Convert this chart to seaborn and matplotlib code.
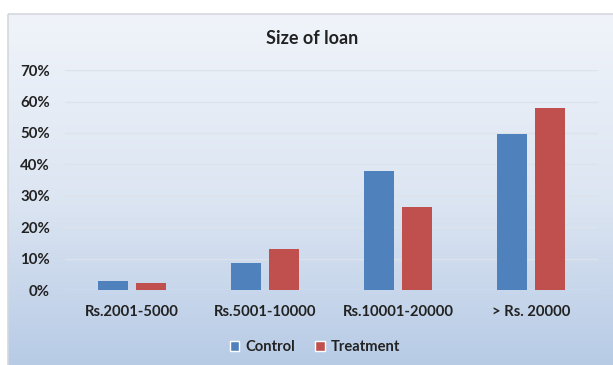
import numpy as np
import pandas as pd
import matplotlib
matplotlib.use("Agg")
import matplotlib.pyplot as plt
from matplotlib.patches import Patch, Rectangle
from matplotlib.colors import LinearSegmentedColormap
import seaborn as sns

# Loan size bands and share of borrowers (%) in each group
categories = ["Rs.2001-5000", "Rs.5001-10000", "Rs.10001-20000", "> Rs. 20000"]
control = [2.8, 8.7, 37.9, 49.8]
treatment = [2.2, 13.0, 26.3, 58.1]
groups = ["Control", "Treatment"]
y_ticks = [0, 10, 20, 30, 40, 50, 60, 70]

df = pd.DataFrame({
    "size": categories * 2,
    "share": control + treatment,
    "group": [groups[0]] * len(categories) + [groups[1]] * len(categories),
})

sns.set_theme(style="white")
plt.rcParams["font.family"] = ["Lato", "DejaVu Sans"]
plt.rcParams["font.weight"] = "bold"

TXT = "#222222"
W, H = 613, 365
fig = plt.figure(figsize=(W / 100, H / 100), dpi=100)
fig.patch.set_facecolor("white")

# Gradient panel behind the chart
bg = fig.add_axes([0, 0, 1, 1], zorder=0)
bg.axis("off")
cmap = LinearSegmentedColormap.from_list("panel", ["#f0f4fa", "#dce5f2", "#b3c8e4"])
grad = np.linspace(0, 1, 256).reshape(-1, 1)
bg.imshow(grad, cmap=cmap, aspect="auto", extent=(8, W + 2, H + 20, 14), zorder=0)
bg.add_patch(Rectangle((8, 14), W, H + 20, fill=False, edgecolor="#d4d8de", lw=1.2, zorder=1))
bg.set_xlim(0, W)
bg.set_ylim(H, 0)

ax = fig.add_axes([65.3 / W, 1 - 290 / H, (597.5 - 65.3) / W, (290 - 70.2) / H], zorder=2)
ax.patch.set_alpha(0)

sns.barplot(
    data=df, x="size", y="share", hue="group",
    palette=["#4f81bd", "#c0504d"], saturation=1,
    width=0.57, gap=0.22, ax=ax, legend=False, zorder=3,
    linewidth=0, edgecolor="none",
)

ax.set_ylim(0, 70)
ax.set_yticks(y_ticks)
ax.set_yticklabels([f"{v}%" for v in y_ticks])
ax.yaxis.grid(True, color="#dde3ec", lw=1.0, zorder=0)
ax.set_axisbelow(True)
ax.set_xlabel("")
ax.set_ylabel("")
for s in ax.spines.values():
    s.set_visible(False)
ax.tick_params(axis="y", length=0, pad=11, labelsize=10.8, labelcolor=TXT)
ax.tick_params(axis="x", length=0, pad=11, labelsize=10.6, labelcolor=TXT)
for lab in ax.get_xticklabels() + ax.get_yticklabels():
    lab.set_fontweight("bold")

fig.text(312 / W, 1 - 39 / H, "Size of loan", ha="center", va="center",
         fontsize=13, fontweight="bold", color=TXT)

handles = [Patch(facecolor="#4f81bd", label=groups[0]),
           Patch(facecolor="#c0504d", label=groups[1])]
fig.legend(handles=handles, loc="center", bbox_to_anchor=(315 / W, 1 - 347 / H),
           ncol=2, frameon=False, handlelength=0.65, handleheight=0.65,
           handletextpad=0.4, columnspacing=1.4,
           prop={"weight": "bold", "size": 10.6}, labelcolor=TXT)

fig.savefig("out.png", dpi=100)
